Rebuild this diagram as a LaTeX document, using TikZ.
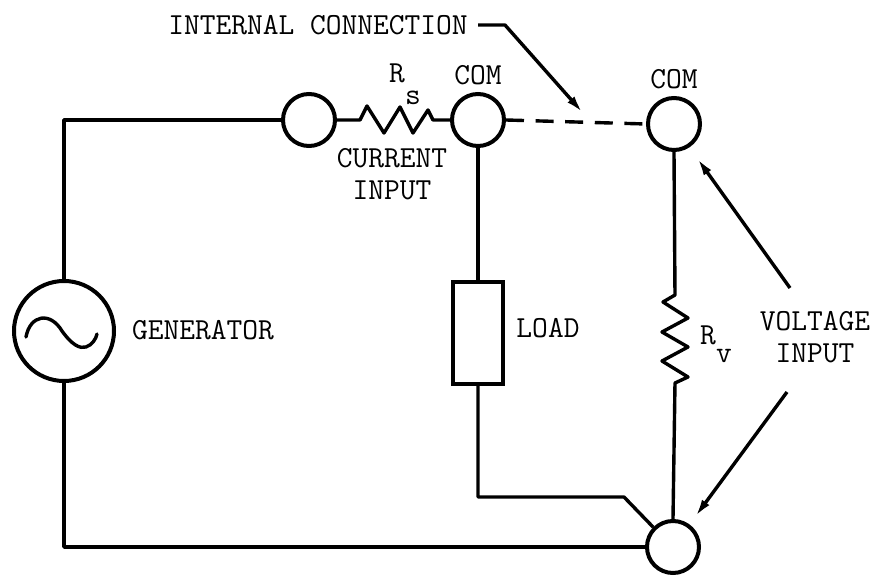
\documentclass[tikz,border=0pt]{standalone}
\usepackage{tikz}
\usetikzlibrary{arrows.meta}
\begin{document}
\begin{tikzpicture}[x=0.5pt,y=-0.5pt]
% définition des paramètres
\tikzstyle filcircuit=[color=black,line width=1.7pt,line join=round]
\tikzstyle filpointille=[color=black,line width=1.7pt,dash pattern=on 9pt off 5.8pt]
\tikzstyle flechecircuit=[color=black,line width=1.7pt,line join=round,-{Latex[length=9pt,width=4.5pt]}]
\tikzstyle bornecircuit=[draw,circle,line width=2pt,minimum size=26pt,inner sep=0pt]
\tikzstyle textecircuit=[font=\fontsize{15.3}{16}\selectfont\ttfamily,align=center,inner sep=0pt]
\useasboundingbox (0,0) rectangle (875,577);
% les bornes
\node [bornecircuit] (borneA) at (309,120) {};
\node [bornecircuit] (comA) at (478,120) {};
\node [bornecircuit] (comB) at (674,124) {};
\node [bornecircuit] (borneB) at (673,547) {};
\node [bornecircuit,minimum size=50pt] (generateur) at (64,331) {};
\node [draw,line width=1.7pt,minimum width=25pt,minimum height=51pt,inner sep=0pt] (charge) at (478,333) {};
% la sinusoide
\draw [shift={(generateur.center)},filcircuit,line cap=round] (-38,6) .. controls (-34,-16) and (-14,-20) .. (-2,0) .. controls (8,14) and (16,18) .. (22,16) .. controls (28,14) and (32,8) .. (33,3);
% les points de coude
\coordinate (coude) at (624,497);
\coordinate (pointeint) at (583,113);
\coordinate (coudeint) at (505,25);
\coordinate (departhaut) at (790,288);
\coordinate (pointehaut) at (697,158);
\coordinate (departbas) at (787,392);
\coordinate (pointebas) at (695,517);
% les textes
\node [textecircuit,inner sep=5pt] (connexion) at (318,25) {INTERNAL CONNECTION};
\node [textecircuit] (labelRs) at (405,84) {R\raisebox{-11pt}{s}};
\node [textecircuit] (labelcomA) at (478,75) {COM};
\node [textecircuit] (labelcomB) at (674,79) {COM};
\node [textecircuit] (courant) at (392,174) {CURRENT\\INPUT};
\node [textecircuit] (labelgen) at (203,330) {GENERATOR};
\node [textecircuit] (labelcharge) at (548,328) {LOAD};
\node [textecircuit] (labelRv) at (716,344) {R\raisebox{-9pt}{v}};
\node [textecircuit] (tension) at (815,337) {VOLTAGE\\INPUT};
% les fils
\draw [filcircuit] (borneA.west) -| (generateur.north);
\draw [filcircuit] (generateur.south) |- (borneB.west);
\draw [filcircuit] (comA.south) -- (charge.north);
\draw [filcircuit] (charge.south) |- (coude) -- (borneB.135);
\draw [filpointille] (comA.east) -- (comB.west);
% les résistances
\draw [filcircuit] (borneA.east) -- (360,120) -- (367,106) -- (384,133) -- (400,107) -- (413,133) -- (428,110) -- (433,120) -- (comA.west);
\draw [filcircuit] (comB.south) -- (675,295) -- (663,302) -- (688,318) -- (662,332) -- (688,347) -- (662,361) -- (688,377) -- (675,383) -- (borneB.north);
% les flèches
\draw [flechecircuit] (connexion.east) -- (coudeint) -- (pointeint);
\draw [flechecircuit] (departhaut) -- (pointehaut);
\draw [flechecircuit] (departbas) -- (pointebas);
\end{tikzpicture}
\end{document}
